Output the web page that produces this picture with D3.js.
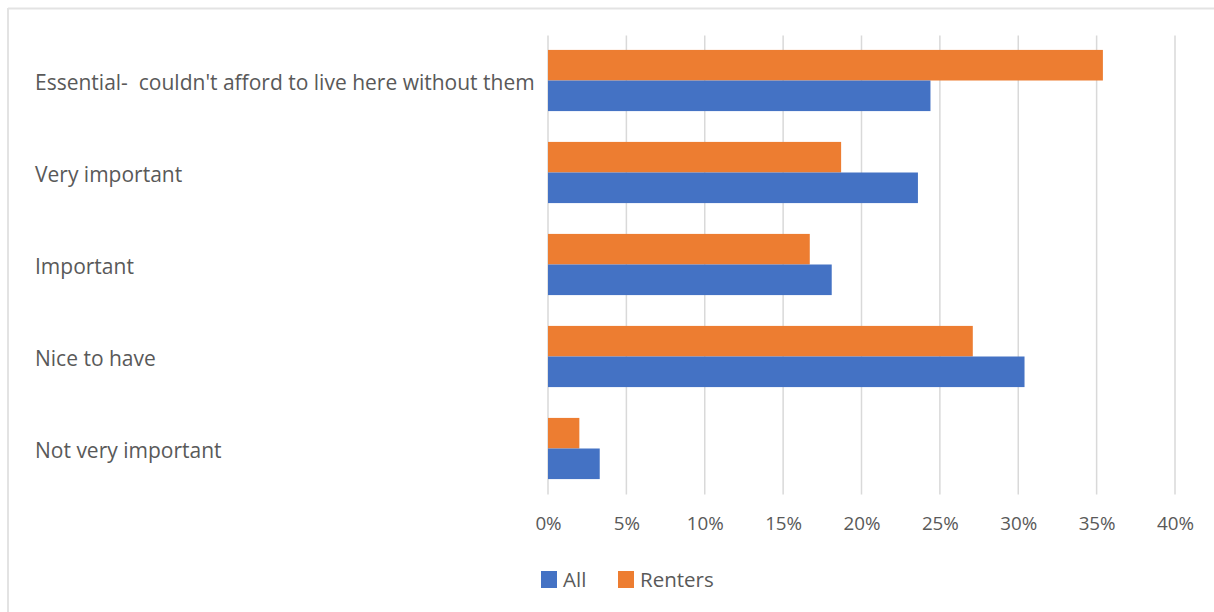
<!DOCTYPE html>
<html>
<head>
<meta charset="utf-8">
<script src="https://cdn.jsdelivr.net/npm/d3@7"></script>
<style>
  html, body { margin: 0; padding: 0; background: #fff; }
  svg text { font-family: "Open Sans", "Noto Sans", sans-serif; fill: #595959; white-space: pre; }
</style>
</head>
<body>
<svg id="chart" width="1214" height="612"></svg>
<script>
// data
const categories = [
    "Essential-  couldn't afford to live here without them",
    "Very important",
    "Important",
    "Nice to have",
    "Not very important"
];
const seriesNames = ["Renters", "All"];
const renters = [35.4, 18.7, 16.7, 27.1, 2.0];
const all = [24.4, 23.6, 18.1, 30.4, 3.3];
const tickValues = [0, 5, 10, 15, 20, 25, 30, 35, 40];
const colors = { "All": "#4472c4", "Renters": "#ed7d31" };

const svg = d3.select('#chart');
const width = 1214, height = 612;
const plot = { left: 548, right: 1175, top: 34.5, bottom: 494.5 };

// frame (top and left edge only visible)
svg.append('line').attr('x1', 8).attr('x2', width).attr('y1', 8.5).attr('y2', 8.5)
    .attr('stroke', '#e3e3e3').attr('stroke-width', 2);
svg.append('line').attr('x1', 8).attr('x2', 8).attr('y1', 8).attr('y2', height)
    .attr('stroke', '#e3e3e3').attr('stroke-width', 2);

const x = d3.scaleLinear().domain([0, 40]).range([plot.left, plot.right]);
const y = d3.scaleBand().domain(categories).range([plot.top, plot.bottom]).paddingInner(0.335).paddingOuter(0.1675);
const ySub = d3.scaleBand().domain(seriesNames).range([0, y.bandwidth()]);

// gridlines
svg.append('g').selectAll('line').data(tickValues).join('line')
    .attr('x1', d => x(d)).attr('x2', d => x(d))
    .attr('y1', plot.top + 1).attr('y2', plot.bottom)
    .attr('stroke', '#d9d9d9').attr('stroke-width', 1.5);

// x axis labels
const xAxis = d3.axisBottom(x).tickValues(tickValues).tickSize(0).tickPadding(0)
    .tickFormat(d => d + '%');
const gx = svg.append('g').attr('transform', `translate(0, ${plot.bottom + 22})`).call(xAxis);
gx.select('.domain').remove();
gx.selectAll('text').attr('font-size', 18.8).attr('font-family', null).style('fill', '#595959');

// category labels
svg.append('g').selectAll('text').data(categories).join('text')
    .attr('x', 35)
    .attr('y', d => y(d) + y.bandwidth() / 2 + 2)
    .attr('dy', '0.35em')
    .attr('font-size', 21)
    .attr('xml:space', 'preserve')
    .text(d => d);

// bars
const rows = categories.map((c, i) => ({ cat: c, Renters: renters[i], All: all[i] }));
const groups = svg.append('g').selectAll('g').data(rows).join('g')
    .attr('transform', d => `translate(0, ${y(d.cat)})`);
groups.selectAll('rect')
    .data(d => seriesNames.map(s => ({ key: s, value: d[s] })))
    .join('rect')
    .attr('x', x(0))
    .attr('y', d => ySub(d.key))
    .attr('width', d => x(d.value) - x(0))
    .attr('height', ySub.bandwidth())
    .attr('fill', d => colors[d.key]);

// legend
const legendItems = [
    { name: "All", x: 541 },
    { name: "Renters", x: 618 }
];
const legend = svg.append('g').selectAll('g').data(legendItems).join('g')
    .attr('transform', d => `translate(${d.x}, 571)`);
legend.append('rect').attr('width', 16).attr('height', 17).attr('fill', d => colors[d.name]);
legend.append('text').attr('x', 22).attr('y', 9).attr('dy', '0.35em')
    .attr('font-size', 20.5).text(d => d.name);
</script>
</body>
</html>
